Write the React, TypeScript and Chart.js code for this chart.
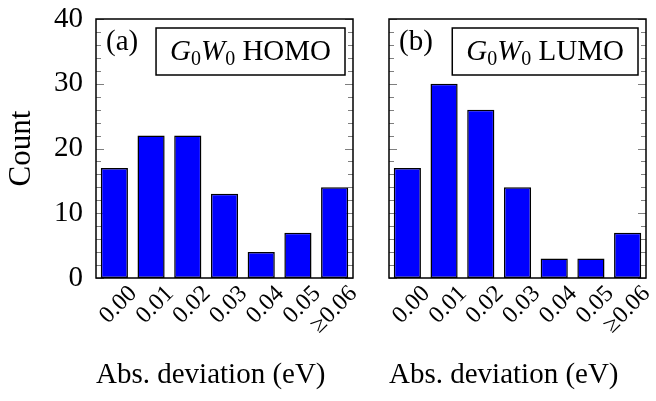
import { useEffect, useRef } from 'react';
import { Chart, registerables } from 'chart.js';

Chart.register(...registerables);

// Histogram bins of absolute deviation (eV)
const categories = ['0.00', '0.01', '0.02', '0.03', '0.04', '0.05', '≥0.06'];
// Counts per bin for the two orbitals
const homoCounts = [17, 22, 22, 13, 4, 7, 14];
const lumoCounts = [17, 30, 26, 14, 3, 3, 7];
// Labelled y ticks and minor tick spacing
const yTickValues = [0, 10, 20, 30, 40];
const yMin = 0;
const yMax = 40;
const minorStep = 2;

const xTitle = 'Abs. deviation (eV)';
const yTitle = 'Count';

const SERIF = '"Liberation Serif", "Times New Roman", Times, serif';
const FONT_SIZE = 29;
const BAR_BLUE = '#0000ff';

type PanelProps = {
  tag: string;
  level: string;
  values: number[];
  showYAxis: boolean;
  left: number;
  width: number;
  padLeft: number;
  padRight: number;
};

// Writes "G0W0 <level>" with italic letters and upright subscripts; returns the width.
function drawMethodLabel(
  ctx: CanvasRenderingContext2D,
  x: number,
  baseline: number,
  level: string,
  draw: boolean
): number {
  const sub = Math.round(FONT_SIZE * 0.7);
  const parts = [
    { t: 'G', font: `italic ${FONT_SIZE}px ${SERIF}`, dy: 0 },
    { t: '0', font: `${sub}px ${SERIF}`, dy: 5 },
    { t: 'W', font: `italic ${FONT_SIZE}px ${SERIF}`, dy: 0 },
    { t: '0', font: `${sub}px ${SERIF}`, dy: 5 },
    { t: ' ' + level, font: `${FONT_SIZE}px ${SERIF}`, dy: 0 },
  ];
  let cx = x;
  for (const p of parts) {
    ctx.font = p.font;
    if (draw) ctx.fillText(p.t, cx, baseline + p.dy);
    cx += ctx.measureText(p.t).width;
  }
  return cx - x;
}

function makeFramePlugin(tag: string, level: string) {
  return {
    id: 'panelFrame',
    beforeDatasetsDraw(chart: any) {
      const { ctx, chartArea: a, scales } = chart;
      const y = scales.y;
      ctx.save();
      ctx.strokeStyle = '#7f7f7f';
      ctx.lineWidth = 1;
      for (let v = yMin; v <= yMax; v += minorStep) {
        const py = Math.round(y.getPixelForValue(v)) + 0.5;
        const len = v % 10 === 0 ? 8 : 5;
        ctx.beginPath();
        ctx.moveTo(a.left, py);
        ctx.lineTo(a.left + len, py);
        ctx.moveTo(a.right, py);
        ctx.lineTo(a.right - len, py);
        ctx.stroke();
      }
      ctx.restore();
    },
    afterDatasetsDraw(chart: any) {
      const { ctx, chartArea: a } = chart;
      ctx.save();
      // axis frame
      ctx.strokeStyle = '#000';
      ctx.lineWidth = 1.5;
      ctx.strokeRect(a.left, a.top, a.right - a.left, a.bottom - a.top);

      // panel tag
      ctx.fillStyle = '#000';
      ctx.textAlign = 'left';
      ctx.textBaseline = 'alphabetic';
      ctx.font = `${FONT_SIZE}px ${SERIF}`;
      ctx.fillText(tag, a.left + 10, a.top + 31);

      // legend box
      const textW = drawMethodLabel(ctx, 0, 0, level, false);
      const padX = 14;
      const boxW = textW + padX * 2;
      const boxH = 47;
      const boxRight = a.right - 8;
      const boxLeft = boxRight - boxW;
      const boxTop = a.top + 9;
      ctx.fillStyle = '#fff';
      ctx.fillRect(boxLeft, boxTop, boxW, boxH);
      ctx.strokeStyle = '#000';
      ctx.lineWidth = 1.5;
      ctx.strokeRect(boxLeft, boxTop, boxW, boxH);
      ctx.fillStyle = '#000';
      drawMethodLabel(ctx, boxLeft + padX, boxTop + 32, level, true);
      ctx.restore();
    },
  };
}

function Panel({ tag, level, values, showYAxis, left, width, padLeft, padRight }: PanelProps) {
  const ref = useRef<HTMLCanvasElement | null>(null);

  useEffect(() => {
    const canvas = ref.current;
    if (!canvas) return;
    const chart = new Chart(canvas, {
      type: 'bar',
      data: {
        labels: categories,
        datasets: [
          {
            data: values,
            backgroundColor: BAR_BLUE,
            borderColor: '#000',
            borderWidth: 1.5,
            borderSkipped: false,
            categoryPercentage: 1,
            barPercentage: 0.74,
          },
        ],
      },
      options: {
        responsive: false,
        animation: false,
        devicePixelRatio: 1,
        layout: { padding: { top: 19, left: padLeft, right: padRight, bottom: 0 } },
        plugins: { legend: { display: false }, tooltip: { enabled: false } },
        scales: {
          x: {
            offset: true,
            grid: { display: false, drawTicks: false },
            border: { display: false },
            ticks: {
              autoSkip: false,
              minRotation: 45,
              maxRotation: 45,
              padding: 2,
              labelOffset: 19,
              color: '#000',
              font: { family: SERIF, size: 24 },
            },
            title: {
              display: true,
              text: xTitle,
              align: 'start',
              color: '#000',
              font: { family: SERIF, size: FONT_SIZE },
              padding: { top: 0, bottom: 8 },
            },
            afterFit(scale: any) {
              scale.height = 123;
              scale.paddingLeft = 0;
              scale.paddingRight = 0;
            },
          },
          y: {
            display: showYAxis,
            min: yMin,
            max: yMax,
            afterBuildTicks(scale: any) {
              scale.ticks = yTickValues.map((v) => ({ value: v }));
            },
            grid: { display: false, drawTicks: false },
            border: { display: false },
            ticks: {
              padding: 13,
              color: '#000',
              font: { family: SERIF, size: FONT_SIZE },
            },
            title: {
              display: true,
              text: yTitle,
              color: '#000',
              font: { family: SERIF, size: 31 },
              padding: { top: 3, bottom: 0 },
            },
            afterFit(scale: any) {
              if (showYAxis) scale.width = 96;
              scale.paddingTop = 0;
              scale.paddingBottom = 0;
            },
          },
        },
      },
      plugins: [makeFramePlugin(tag, level)],
    } as any);
    return () => chart.destroy();
  }, [tag, level, values, showYAxis, padLeft, padRight]);

  return (
    <canvas
      ref={ref}
      width={width}
      height={401}
      style={{ position: 'absolute', left, top: 0, width, height: 401 }}
    />
  );
}

export default function App() {
  return (
    <div
      style={{
        position: 'fixed',
        left: 0,
        top: 0,
        width: 656,
        height: 401,
        background: '#fff',
        overflow: 'hidden',
      }}
    >
      <Panel tag="(a)" level="HOMO" values={homoCounts} showYAxis left={0} width={370} padLeft={0} padRight={17} />
      <Panel tag="(b)" level="LUMO" values={lumoCounts} showYAxis={false} left={370} width={286} padLeft={19} padRight={10} />
    </div>
  );
}
